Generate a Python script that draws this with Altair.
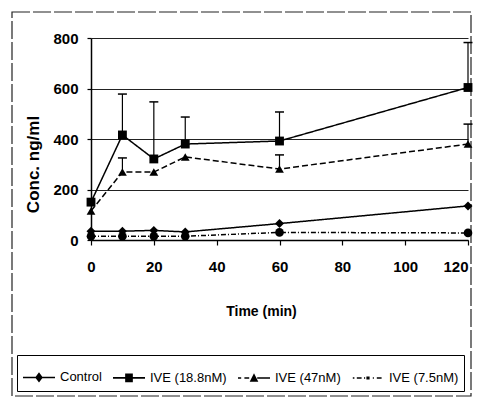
import altair as alt
import pandas as pd

time = [0, 10, 20, 30, 60, 120]
series = ["Control", "IVE (18.8nM)", "IVE (47nM)", "IVE (7.5nM)"]
control = [35, 35, 38, 32, 65, 135]
ive188 = [150, 416, 321, 380, 392, 604]
ive188_up = [None, 578, 547, 487, 507, 782]
ive47 = [115, 269, 269, 329, 281, 380]
ive47_up = [None, 325, None, None, 337, 459]
ive75 = [15, 15, 15, 15, 30, 28]
x_ticks = [0, 20, 40, 60, 80, 100, 120]
y_ticks = [0, 200, 400, 600, 800]

values = {"Control": control, "IVE (18.8nM)": ive188, "IVE (47nM)": ive47, "IVE (7.5nM)": ive75}
uppers = {"IVE (18.8nM)": ive188_up, "IVE (47nM)": ive47_up}
rows = []
for s in series:
    for i, t in enumerate(time):
        up = uppers.get(s, [None] * len(time))[i]
        rows.append({"t": t, "v": values[s][i], "up": up, "series": s})
df = pd.DataFrame(rows)

FONT = "Liberation Sans, Arial, sans-serif"

xenc = alt.X("t:Q", scale=alt.Scale(domain=[0, 120], nice=False),
             axis=alt.Axis(values=x_ticks, grid=False, tickSize=5, labelPadding=14,
                           labelFlush=False,
                           labelAlign=alt.ExprRef(expr="datum.value == 120 ? 'right' : 'center'"),
                           labelFont=FONT, labelFontSize=15, labelFontWeight="bold",
                           title="Time (min)", titleFont=FONT, titleFontSize=14,
                           titleFontWeight="bold", titlePadding=30, titleX=170))
yenc = alt.Y("v:Q", scale=alt.Scale(domain=[0, 800], nice=False),
             axis=alt.Axis(values=y_ticks, grid=True, tickSize=4, labelPadding=9,
                           labelFont=FONT, labelFontSize=15, labelFontWeight="bold",
                           title="Conc.   ng/ml", titleFont=FONT, titleFontSize=17,
                           titleFontWeight="bold", titlePadding=10, titleY=126))

dash_scale = alt.Scale(domain=series, range=[[1, 0], [1, 0], [6, 3], [5, 2, 1, 2]])
shape_scale = alt.Scale(domain=series, range=["diamond", "square", "triangle-up", "circle"])
size_scale = alt.Scale(domain=series, range=[80, 75, 80, 18])

base = alt.Chart(df)

lines = base.mark_line(color="black", strokeWidth=1.5).encode(
    x=xenc, y=yenc, detail="series:N",
    strokeDash=alt.StrokeDash("series:N", scale=dash_scale, legend=None),
)

err = base.transform_filter("datum.up != null").mark_rule(color="black", strokeWidth=1.2).encode(
    x="t:Q", y="v:Q", y2="up:Q"
)
caps = base.transform_filter("datum.up != null").mark_point(
    shape="M-1,0L1,0", size=81, color="black", filled=False, strokeWidth=1.5, opacity=1
).encode(x="t:Q", y="up:Q")

points = base.mark_point(filled=True, color="black", opacity=1).encode(
    x="t:Q", y="v:Q",
    shape=alt.Shape("series:N", scale=shape_scale, legend=None),
    size=alt.Size("series:N", scale=size_scale, legend=None),
)


def seg(a, b, h=0.05):
    return f"M{a},{-h}L{b},{-h}L{b},{h}L{a},{h}Z"


legend_paths = [
    seg(-1, 1) + "M0,-0.32L0.24,0L0,0.32L-0.24,0Z",
    seg(-1, 1) + "M-0.24,-0.27L0.24,-0.27L0.24,0.27L-0.24,0.27Z",
    seg(-1, -0.8) + seg(-0.6, -0.3) + seg(0.2, 1) + "M0,-0.3L0.27,0.24L-0.27,0.24Z",
    seg(-0.95, -0.85) + seg(-0.7, -0.4) + seg(-0.25, -0.18) + seg(0.3, 0.37)
    + seg(0.55, 0.85) + "M-0.1,-0.1L0.1,-0.1L0.1,0.1L-0.1,0.1Z",
]
legend_layer = base.transform_filter("datum.t < 0").mark_point(
    filled=True, color="black", opacity=1
).encode(
    x="t:Q", y="v:Q",
    shape=alt.Shape("series:N", scale=alt.Scale(domain=series, range=legend_paths),
                    legend=alt.Legend(title=None, orient="none", legendX=-74, legendY=317,
                                      direction="horizontal", columns=4, columnPadding=8,
                                      symbolSize=1024, symbolFillColor="black",
                                      labelFont=FONT, labelFontSize=13, labelOffset=4,
                                      labelColor="black", padding=5, strokeColor="black")),
)

frame = alt.Chart(pd.DataFrame({"a": [0]})).mark_rect(
    fillOpacity=0, stroke="#222", strokeWidth=1.2, strokeDash=[18, 3]
).encode(x=alt.value(-79), x2=alt.value(380), y=alt.value(-26), y2=alt.value(358))

chart = alt.layer(frame, lines, err, caps, points, legend_layer).resolve_scale(
    shape="independent", size="independent"
).properties(
    width=377, height=202, autosize="none",
    padding={"left": 83, "top": 30, "right": 5, "bottom": 157},
).configure_view(stroke=None).configure_axis(
    domainColor="black", domainWidth=1.5, tickColor="black", tickWidth=1.2,
    gridColor="#222", gridWidth=1.2, labelColor="black", titleColor="black",
)

chart.save("out.html", embed_options={"renderer": "svg", "actions": False})
